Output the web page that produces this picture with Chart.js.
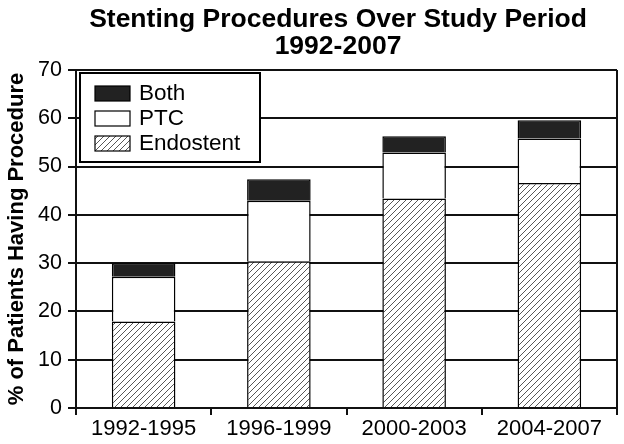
<!DOCTYPE html>
<html>
<head>
<meta charset="utf-8">
<script src="https://cdn.jsdelivr.net/npm/chart.js@4.4.1/dist/chart.umd.min.js"></script>
<style>
  html, body { margin: 0; padding: 0; background: #fff; }
  #wrap { width: 624px; height: 444px; }
</style>
</head>
<body>
<div id="wrap"><canvas id="grafico" width="624" height="444"></canvas></div>
<script>
// dati
var periodi = ['1992-1995', '1996-1999', '2000-2003', '2004-2007'];
var endostent = [17.9, 30.4, 43.4, 46.6];
var ptc = [9.3, 12.5, 9.5, 9.2];
var both = [2.8, 4.5, 3.4, 3.8];
var titolo = ['Stenting Procedures Over Study Period', '1992-2007'];
var titoloAsseY = '% of Patients Having Procedure';
var tickY = [0, 10, 20, 30, 40, 50, 60, 70];

var FONT = '"Liberation Sans", Arial, Helvetica, sans-serif';

// tratteggio diagonale per Endostent
function creaTratteggio() {
    var c = document.createElement('canvas');
    c.width = 6;
    c.height = 6;
    var g = c.getContext('2d');
    g.fillStyle = '#fff';
    g.fillRect(0, 0, 6, 6);
    g.strokeStyle = '#444';
    g.lineWidth = 0.9;
    g.beginPath();
    g.moveTo(0, 6); g.lineTo(6, 0);
    g.moveTo(-1, 1); g.lineTo(1, -1);
    g.moveTo(5, 7); g.lineTo(7, 5);
    g.stroke();
    return g.createPattern(c, 'repeat');
}

var ctx = document.getElementById('grafico').getContext('2d');
var tratteggio = creaTratteggio();

// titolo disegnato a mano per centrarlo come nell'originale
var pluginTitolo = {
    id: 'titoloCustom',
    afterDraw: function(chart) {
        var c = chart.ctx;
        c.save();
        c.fillStyle = '#000';
        c.font = 'bold 26.5px ' + FONT;
        c.textAlign = 'center';
        c.textBaseline = 'alphabetic';
        c.fillText(titolo[0], 338, 27);
        c.fillText(titolo[1], 338, 54);
        c.restore();
    }
};

// legenda con bordo dentro l'area del grafico
var pluginLegenda = {
    id: 'legendaBox',
    afterDraw: function(chart) {
        var c = chart.ctx;
        var x0 = 80, y0 = 73, w = 180, h = 89;
        c.save();
        c.fillStyle = '#fff';
        c.fillRect(x0, y0, w, h);
        c.strokeStyle = '#000';
        c.lineWidth = 2;
        c.strokeRect(x0, y0, w, h);
        var ds = chart.data.datasets.slice().reverse();
        c.font = '22.5px ' + FONT;
        c.textBaseline = 'middle';
        c.textAlign = 'left';
        for (var i = 0; i < ds.length; i++) {
            var sy = 86 + i * 25;
            c.fillStyle = ds[i].backgroundColor;
            c.fillRect(95, sy, 35, 15);
            c.lineWidth = 1.2;
            c.strokeStyle = '#000';
            c.strokeRect(95, sy, 35, 15);
            c.fillStyle = '#000';
            c.fillText(ds[i].label, 139, sy + 8);
        }
        c.restore();
    }
};

var grafico = new Chart(ctx, {
    type: 'bar',
    data: {
        labels: periodi,
        datasets: [
            { label: 'Endostent', data: endostent, backgroundColor: tratteggio, borderColor: '#000', borderWidth: 1.5 },
            { label: 'PTC', data: ptc, backgroundColor: '#fff', borderColor: '#000', borderWidth: 1.5 },
            { label: 'Both', data: both, backgroundColor: '#222', borderColor: '#000', borderWidth: 1.5 }
        ]
    },
    options: {
        responsive: false,
        animation: false,
        layout: { padding: { top: 70, right: 7, bottom: 0, left: 0 } },
        datasets: {
            bar: { categoryPercentage: 1, barPercentage: 0.47 }
        },
        plugins: {
            legend: { display: false },
            tooltip: { enabled: false },
            title: { display: false }
        },
        scales: {
            x: {
                stacked: true,
                grid: {
                    offset: true,
                    color: function(c) { return c.type === 'tick' ? 'rgba(0,0,0,0)' : '#111'; },
                    tickColor: '#111',
                    lineWidth: 2,
                    tickLength: 7
                },
                border: { display: true, color: '#111', width: 2 },
                ticks: { color: '#000', font: { family: FONT, size: 22 }, padding: 1, maxRotation: 0 },
                afterFit: function(s) { s.height = 36; }
            },
            y: {
                stacked: true,
                min: 0,
                max: 70,
                afterBuildTicks: function(s) { s.ticks = tickY.map(function(v) { return { value: v }; }); },
                grid: { color: '#111', lineWidth: 2, tickLength: 8 },
                border: { display: true, color: '#111', width: 2 },
                ticks: { color: '#000', font: { family: FONT, size: 21.5 }, padding: 6 },
                title: {
                    display: true,
                    text: titoloAsseY,
                    color: '#000',
                    font: { family: FONT, size: 22, weight: 'bold' },
                    padding: { top: 4, bottom: 0 }
                },
                afterFit: function(s) { s.width = 76; }
            }
        }
    },
    plugins: [pluginTitolo, pluginLegenda]
});
</script>
</body>
</html>
